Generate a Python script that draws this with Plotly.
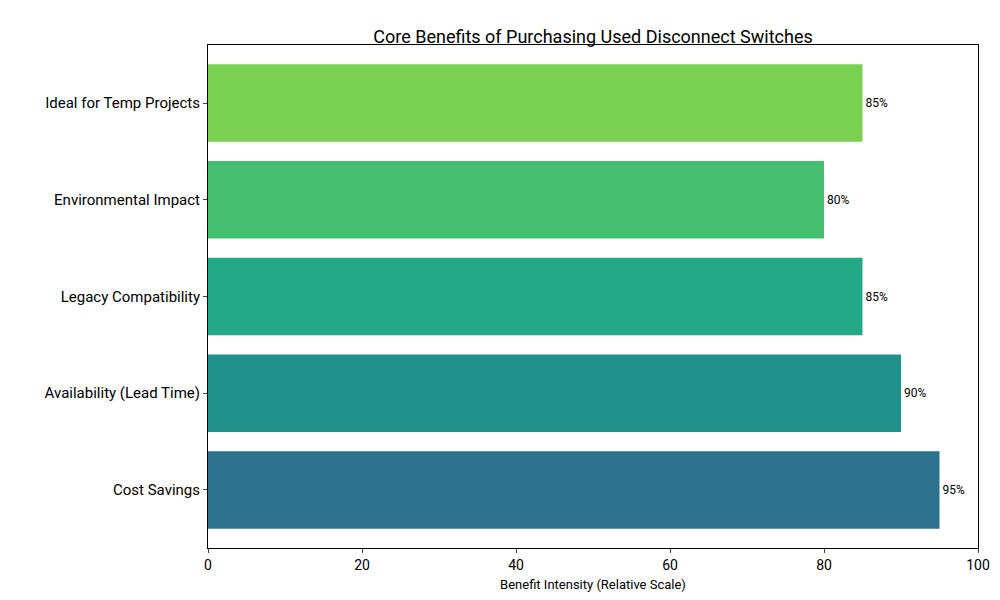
import plotly.graph_objects as go

categories = ["Cost Savings", "Availability (Lead Time)", "Legacy Compatibility",
              "Environmental Impact", "Ideal for Temp Projects"]
values = [95, 90, 85, 80, 85]
colors = ["#2c728e", "#21918c", "#22a884", "#44bf70", "#7ad151"]

fig = go.Figure(go.Bar(
    x=values, y=categories, orientation="h", width=0.8,
    marker=dict(color=colors, line=dict(width=0)),
    text=[f"{v}%" for v in values], textposition="outside",
    textfont=dict(size=12, color="black"), cliponaxis=False,
))

fig.update_layout(
    width=1000, height=600,
    font=dict(family="Roboto, sans-serif", color="black"),
    title=dict(text="Core Benefits of Purchasing Used Disconnect Switches",
               x=0.585, xanchor="center", y=0.962, font=dict(size=18)),
    plot_bgcolor="white", paper_bgcolor="white",
    margin=dict(l=200, r=30, t=37, b=60),
    showlegend=False,
)
fig.update_xaxes(range=[0, 100], dtick=20, showgrid=False, zeroline=False,
                 showline=True, linecolor="black", mirror=True,
                 ticks="outside", ticklen=4, tickfont=dict(size=14),
                 title=dict(text="Benefit Intensity (Relative Scale)", font=dict(size=13), standoff=8))
fig.update_yaxes(range=[-0.6, 4.6], showgrid=False, showline=True, linecolor="black",
                 mirror=True, ticks="outside", ticklen=4, tickfont=dict(size=15))

fig.write_html("out.html")
